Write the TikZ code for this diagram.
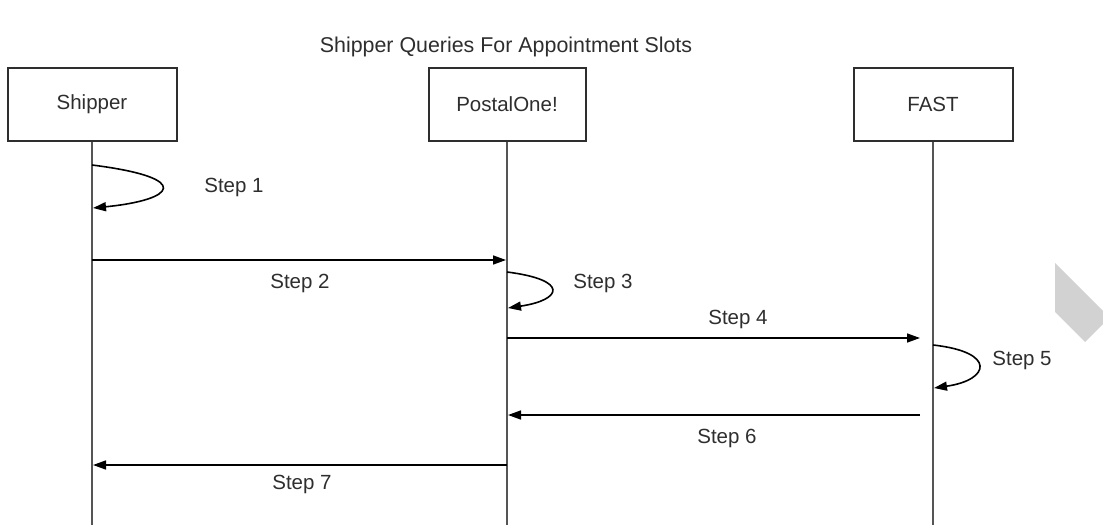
\documentclass[tikz,border=0pt]{standalone}
\usepackage{fontspec}
\setmainfont{Liberation Sans}
\usetikzlibrary{arrows.meta}
\definecolor{txt}{HTML}{2E2E2E}
\definecolor{lifec}{HTML}{555555}
\begin{document}
\begin{tikzpicture}[x=1pt,y=-1pt,
  every node/.style={font=\fontsize{20.5}{24}\selectfont, text=txt, inner sep=0pt},
  actor/.style={draw=txt, line width=2pt, minimum width=#1, minimum height=73pt},
  lifeline/.style={draw=lifec, line width=2.6pt},
  msg/.style={draw=black, line width=1.6pt, -{Triangle[length=13pt,width=9pt]}},
  lbl/.style={},
  titlestyle/.style={font=\fontsize{21.4}{25}\selectfont}]
\useasboundingbox (0,0) rectangle (1103,525);
% title
\node[titlestyle] (title) at (506,47) {Shipper Queries For Appointment Slots};
% actors
\node[actor=169pt] (ship) at (92,104) {Shipper};
\node[actor=157pt] (post) at (507,104) {PostalOne!};
\node[actor=159pt] (fast) at (933,104) {FAST};
\coordinate (shipEnd) at (92,525);
\coordinate (postEnd) at (507,525);
\coordinate (fastEnd) at (933,525);
\draw[lifeline] (ship.south) -- (shipEnd);
\draw[lifeline] (post.south) -- (postEnd);
\draw[lifeline] (fast.south) -- (fastEnd);
% step 1
\coordinate (s1a) at (92,165);
\coordinate (s1b) at (93,208);
\draw[msg] (s1a) .. controls (195,178) and (175,200) .. (s1b);
\node[lbl] (l1) at (234,187) {Step 1};
% step 2
\coordinate (s2a) at (92,260);
\coordinate (s2b) at (506,260);
\draw[msg] (s2a) -- (s2b);
\node[lbl] (l2) at (300,283) {Step 2};
% step 3
\coordinate (s3a) at (507,272);
\coordinate (s3b) at (508,308);
\draw[msg] (s3a) .. controls (570,280) and (562,300) .. (s3b);
\node[lbl] (l3) at (603,283) {Step 3};
% step 4
\coordinate (s4a) at (507,338);
\coordinate (s4b) at (920,338);
\draw[msg] (s4a) -- (s4b);
\node[lbl] (l4) at (738,319) {Step 4};
% step 5
\coordinate (s5a) at (933,345);
\coordinate (s5b) at (934,388);
\draw[msg] (s5a) .. controls (997,352) and (990,380) .. (s5b);
\node[lbl] (l5) at (1022,360) {Step 5};
% step 6
\coordinate (s6a) at (920,415);
\coordinate (s6b) at (508,415);
\draw[msg] (s6a) -- (s6b);
\node[lbl] (l6) at (727,438) {Step 6};
% step 7
\coordinate (s7a) at (507,465);
\coordinate (s7b) at (93,465);
\draw[msg] (s7a) -- (s7b);
\node[lbl] (l7) at (302,484) {Step 7};
% grey corner mark
\fill[gray!35] (1055,263) -- (1103,311) -- (1103,324) -- (1085,342) -- (1055,312) -- cycle;
\end{tikzpicture}
\end{document}
